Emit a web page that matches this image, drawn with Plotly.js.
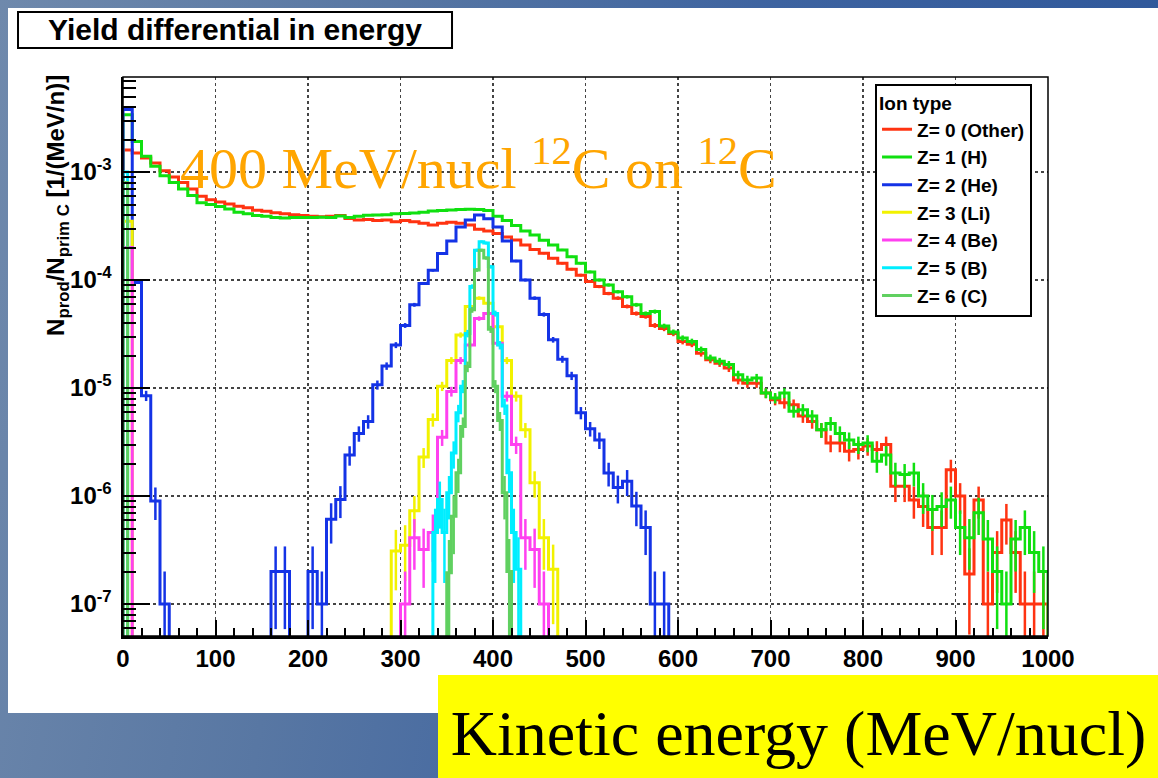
<!DOCTYPE html>
<html><head><meta charset="utf-8">
<script src="https://cdn.plot.ly/plotly-3.0.1.min.js"></script>
<style>
html,body{margin:0;padding:0;width:1158px;height:778px;overflow:hidden;
background:linear-gradient(100deg,#6f89ac 0%,#5877a3 30%,#3d63a0 60%,#2c5599 100%);}
#panel{position:absolute;left:8px;top:8px;width:1150px;height:705px;background:#fff;}
#chart{position:absolute;left:0;top:0;width:1158px;height:778px;}
</style></head><body><div id="panel"></div><div id="chart"></div>
<script>
// ---- data (yield per MeV/n, 10 MeV/n bins unless noted) ----
const energyEdges = [0,10,20,30,40,50,60,70,80,90,100,110,120,130,140,150,160,170,180,190,200,210,220,230,240,250,260,270,280,290,300,310,320,330,340,350,360,370,380,390,400,410,420,430,440,450,460,470,480,490,500,510,520,530,540,550,560,570,580,590,600,610,620,630,640,650,660,670,680,690,700,710,720,730,740,750,760,770,780,790,800,810,820,830,840,850,860,870,880,890,900,910,920,930,940,950,960,970,980,990,1000];

const zOther = [1.6e-3,1.5e-3,1.35e-3,1.21e-3,1.03e-3,9.0e-4,8.0e-4,6.97e-4,5.96e-4,5.55e-4,
 5.28e-4,5.07e-4,4.82e-4,4.66e-4,4.43e-4,4.33e-4,4.19e-4,4.12e-4,4.03e-4,3.95e-4,
 3.9e-4,3.85e-4,3.9e-4,3.95e-4,3.72e-4,3.6e-4,3.63e-4,3.55e-4,3.6e-4,3.47e-4,
 3.55e-4,3.47e-4,3.35e-4,3.23e-4,3.35e-4,3.42e-4,3.35e-4,3.23e-4,2.95e-4,2.85e-4,
 2.7e-4,2.5e-4,2.35e-4,2.11e-4,1.92e-4,1.77e-4,1.59e-4,1.43e-4,1.26e-4,1.11e-4,
 9.7e-5,8.7e-5,7.5e-5,6.8e-5,5.7e-5,4.9e-5,4.6e-5,3.8e-5,3.55e-5,3.2e-5,
 2.7e-5,2.55e-5,2.1e-5,1.83e-5,1.7e-5,1.53e-5,1.19e-5,1.11e-5,1.11e-5,9.0e-6,
 7.8e-6,7.3e-6,7.0e-6,5.5e-6,4.9e-6,4.1e-6,3.1e-6,3.1e-6,2.6e-6,2.7e-6,
 2.9e-6,2.7e-6,3.0e-6,1.23e-6,1.23e-6,9.2e-7,8.0e-7,5.1e-7,5.1e-7,1.75e-6,
 1.0e-6,1.9e-7,9.2e-7,1.0e-7,3.0e-7,6.0e-7,3.0e-7,1.0e-7,1.0e-7,1.0e-7];

const zH = [3.4e-3,1.92e-3,1.4e-3,1.13e-3,9.25e-4,8.0e-4,6.97e-4,6.05e-4,5.2e-4,5.0e-4,
 4.8e-4,4.55e-4,4.25e-4,4.12e-4,3.95e-4,3.9e-4,3.8e-4,3.76e-4,3.8e-4,3.8e-4,
 3.8e-4,3.82e-4,3.8e-4,3.92e-4,3.8e-4,3.9e-4,3.97e-4,4.0e-4,4.03e-4,4.1e-4,
 4.14e-4,4.18e-4,4.25e-4,4.35e-4,4.4e-4,4.45e-4,4.5e-4,4.52e-4,4.5e-4,4.4e-4,
 3.9e-4,3.55e-4,3.2e-4,2.85e-4,2.61e-4,2.34e-4,2.11e-4,1.9e-4,1.64e-4,1.43e-4,
 1.19e-4,1.0e-4,9.0e-5,7.8e-5,7.0e-5,5.9e-5,4.9e-5,5.1e-5,3.75e-5,3.3e-5,
 2.9e-5,2.7e-5,2.27e-5,1.9e-5,1.77e-5,1.65e-5,1.33e-5,1.19e-5,1.24e-5,9.0e-6,
 8.1e-6,9.0e-6,6.1e-6,6.3e-6,5.5e-6,4.1e-6,4.7e-6,3.8e-6,3.3e-6,3.0e-6,
 3.1e-6,2.1e-6,2.4e-6,1.63e-6,1.58e-6,1.63e-6,1.0e-6,7.5e-7,8.0e-7,9.2e-7,
 5.1e-7,4.1e-7,7.0e-7,4.0e-7,2.0e-7,1.0e-7,4.0e-7,5.1e-7,3.0e-7,2.0e-7];

const zHe = [3.8e-3,9.5e-5,8.5e-6,9.0e-7,1.0e-7,0,0,0,0,0,
 0,0,0,0,0,0,2.0e-7,2.0e-7,0,0,
 2.0e-7,1.0e-7,6.1e-7,9.3e-7,2.4e-6,3.8e-6,4.9e-6,1.07e-5,1.6e-5,2.5e-5,
 3.8e-5,5.9e-5,9.3e-5,1.23e-4,1.76e-4,2.3e-4,3.1e-4,3.6e-4,4.0e-4,3.7e-4,
 3.1e-4,2.3e-4,1.5e-4,1.0e-4,6.8e-5,4.8e-5,2.8e-5,1.85e-5,1.3e-5,5.9e-6,
 4.2e-6,3.3e-6,1.63e-6,1.2e-6,1.37e-6,8.1e-7,5.1e-7,1.0e-7,1.0e-7,0];

const liEdges  = [0,10,290,300,310,320,330,340,350,360,370,380,390,400,410,420,430,440,450,460,470];
const zLi      = [3.5e-4,0,3.1e-7,3.5e-7,7.3e-7,2.3e-6,5.1e-6,1.04e-5,1.8e-5,3.1e-5,5.7e-5,6.8e-5,6.1e-5,3.7e-5,1.8e-5,8.4e-6,4.1e-6,1.33e-6,4.1e-7,2.1e-7];

const beEdges  = [0,10,300,310,320,330,340,350,360,370,380,390,400,410,420,430,440,450,460];
const zBe      = [2.0e-4,0,1.0e-7,4.1e-7,3.2e-7,4.6e-7,3.5e-6,9.3e-6,1.8e-5,2.5e-5,4.4e-5,4.9e-5,2.6e-5,8.4e-6,3.0e-6,4.1e-7,3.2e-7,1.0e-7];

// boron and carbon: 5 MeV/n bins
const bEdges   = [0,5,335,340,345,350,355,360,365,370,375,380,385,390,395,400,405,410,415,420,425,430];
const zB       = [1.0e-3,0,4.6e-7,9.3e-7,4.6e-7,1.07e-6,2.5e-6,5.9e-6,1.04e-5,3.2e-5,8.7e-5,1.89e-4,2.26e-4,2.2e-4,1.33e-4,4.9e-5,2.5e-5,6.8e-6,1.64e-6,4.6e-7,2.1e-7];

const cEdges   = [0,5,350,355,360,365,370,375,380,385,390,395,400,405,410,415,420];
const zC       = [8.0e-4,0,1.95e-7,6.5e-7,1.64e-6,4.4e-6,1.58e-5,5.3e-5,1.24e-4,1.89e-4,1.6e-4,3.5e-5,1.04e-5,5.0e-6,1.07e-6,2.0e-7];

const seriesNames = ['Z= 0 (Other)','Z= 1 (H)','Z= 2 (He)','Z= 3 (Li)','Z= 4 (Be)','Z= 5 (B)','Z= 6 (C)'];
const xTickVals = [0,100,200,300,400,500,600,700,800,900,1000];
const yTickVals = [1e-7,1e-6,1e-5,1e-4,1e-3];
const yTickText = ['10<sup>-7</sup>','10<sup>-6</sup>','10<sup>-5</sup>','10<sup>-4</sup>','10<sup>-3</sup>'];

// ---- styling ----
const FONT = 'Liberation Sans, Arial, Helvetica, sans-serif';
const SERIF = 'Liberation Serif, Times New Roman, Times, serif';
const colors = ['#ff3311','#10e010','#1433e6','#f2f200','#ff40f0','#00eeff','#60d060'];
const FLOOR = 1e-12;          // empty bin -> line drops below the frame
const ONE_COUNT_PER_MEV = 1e-6; // one entry in a bin, per MeV/n of bin width

const series = [
  {edges: energyEdges, values: zOther},
  {edges: energyEdges, values: zH},
  {edges: energyEdges.slice(0, zHe.length + 1), values: zHe},
  {edges: liEdges, values: zLi},
  {edges: beEdges, values: zBe},
  {edges: bEdges, values: zB},
  {edges: cEdges, values: zC}
];

const data = [];
series.forEach((s, i) => {
  const n = s.values.length;
  const vals = s.values.map(v => v > 0 ? v : FLOOR);
  const x = [s.edges[0]].concat(s.edges.slice(0, n)).concat([s.edges[n], s.edges[n]]);
  const y = [FLOOR].concat(vals).concat([vals[n - 1], FLOOR]);
  data.push({
    type: 'scatter', mode: 'lines', x: x, y: y, name: seriesNames[i],
    legendgroup: 'g' + i, line: {shape: 'hv', width: 3, color: colors[i]},
    hoverinfo: 'skip'
  });
  const cx = [], cy = [], ce = [];
  for (let k = 0; k < n; k++) {
    if (s.values[k] > 0) {
      const w = s.edges[k + 1] - s.edges[k];
      cx.push((s.edges[k] + s.edges[k + 1]) / 2);
      cy.push(s.values[k]);
      ce.push(Math.sqrt(s.values[k] * ONE_COUNT_PER_MEV / w));
    }
  }
  data.push({
    type: 'scatter', mode: 'markers', x: cx, y: cy, showlegend: false,
    legendgroup: 'g' + i, marker: {size: 1, color: 'rgba(0,0,0,0)'},
    error_y: {type: 'data', array: ce, visible: true, color: colors[i], thickness: 2.5, width: 0},
    hoverinfo: 'skip'
  });
});

const minorY = [];
for (let k = -8; k <= -3; k++) for (let m = 2; m <= 9; m++) minorY.push(m * Math.pow(10, k));

const tickFont = {family: FONT, size: 24, weight: 'bold', color: '#000'};

const layout = {
  width: 1158, height: 778,
  margin: {l: 123, r: 110, t: 77, b: 142, pad: 0},
  paper_bgcolor: 'rgba(0,0,0,0)', plot_bgcolor: '#ffffff',
  hovermode: false,
  showlegend: true,
  legend: {
    x: 0.813, y: 0.988, xanchor: 'left', yanchor: 'top',
    bgcolor: '#ffffff', bordercolor: '#000', borderwidth: 2,
    font: {family: FONT, size: 19, weight: 'bold', color: '#000'},
    title: {text: 'Ion type', font: {family: FONT, size: 19, weight: 'bold', color: '#000'}},
    tracegroupgap: 0, itemwidth: 30, traceorder: 'normal'
  },
  xaxis: {
    range: [0, 1000], tickmode: 'array', tickvals: xTickVals,
    ticks: 'inside', ticklen: 16, tickwidth: 2, tickcolor: '#000',
    showline: true, linecolor: '#000', linewidth: 2.5, mirror: false,
    showgrid: true, gridcolor: '#444', griddash: 'dot', gridwidth: 1.2, zeroline: false,
    tickfont: tickFont, ticklabelstandoff: 0,
    minor: {tickmode: 'linear', tick0: 0, dtick: 20, ticks: 'inside', ticklen: 8, tickwidth: 2, tickcolor: '#000', showgrid: false}
  },
  yaxis: {
    type: 'log', range: [-7.296, -2.12], tickmode: 'array', tickvals: yTickVals, ticktext: yTickText,
    ticks: 'inside', ticklen: 27, tickwidth: 2, tickcolor: '#000',
    showline: true, linecolor: '#000', linewidth: 2.5, mirror: false,
    showgrid: true, gridcolor: '#444', griddash: 'dot', gridwidth: 1.2, zeroline: false,
    tickfont: tickFont, ticklabelstandoff: 4,
    minor: {tickmode: 'array', tickvals: minorY, ticks: 'inside', ticklen: 13, tickwidth: 2, tickcolor: '#000', showgrid: false}
  },
  shapes: [
    {type: 'rect', xref: 'paper', yref: 'paper', x0: 0, x1: 1, y0: 0, y1: 1,
     line: {color: '#000', width: 1.5}, layer: 'above'},
    {type: 'rect', xref: 'paper', yref: 'paper', x0: -0.1135, x1: 0.3557, y0: 1.0519, y1: 1.1163,
     line: {color: '#000', width: 2}, fillcolor: '#ffffff', layer: 'below'}
  ],
  annotations: [
    {xref: 'paper', yref: 'paper', x: 0.1211, y: 1.0841, xanchor: 'center', yanchor: 'middle',
     text: 'Yield differential in energy', showarrow: false,
     font: {family: FONT, size: 30, weight: 'bold', color: '#000'}},
    {xref: 'paper', yref: 'paper', x: 0.0595, y: 0.843, xanchor: 'left', yanchor: 'middle',
     text: '400 MeV/nucl <sup>12</sup>C on <sup>12</sup>C', showarrow: false,
     font: {family: SERIF, size: 58, color: '#ffa500'}},
    {xref: 'paper', yref: 'paper', x: -0.0714, y: 0.771, xanchor: 'center', yanchor: 'middle',
     textangle: -90, text: 'N<sub>prod</sub>/N<sub>prim C</sub> [1/(MeV/n)]', showarrow: false,
     font: {family: FONT, size: 24, weight: 'bold', color: '#000'}},
    {xref: 'paper', yref: 'paper', x: 0.34, y: -0.0691, xanchor: 'left', yanchor: 'top',
     width: 721, height: 117, borderpad: 0, borderwidth: 0, bgcolor: '#ffff00',
     align: 'center', valign: 'middle',
     text: 'Kinetic energy (MeV/nucl)', showarrow: false,
     font: {family: SERIF, size: 64, color: '#000'}}
  ]
};

Plotly.newPlot('chart', data, layout, {staticPlot: true, displayModeBar: false});
</script></body></html>
